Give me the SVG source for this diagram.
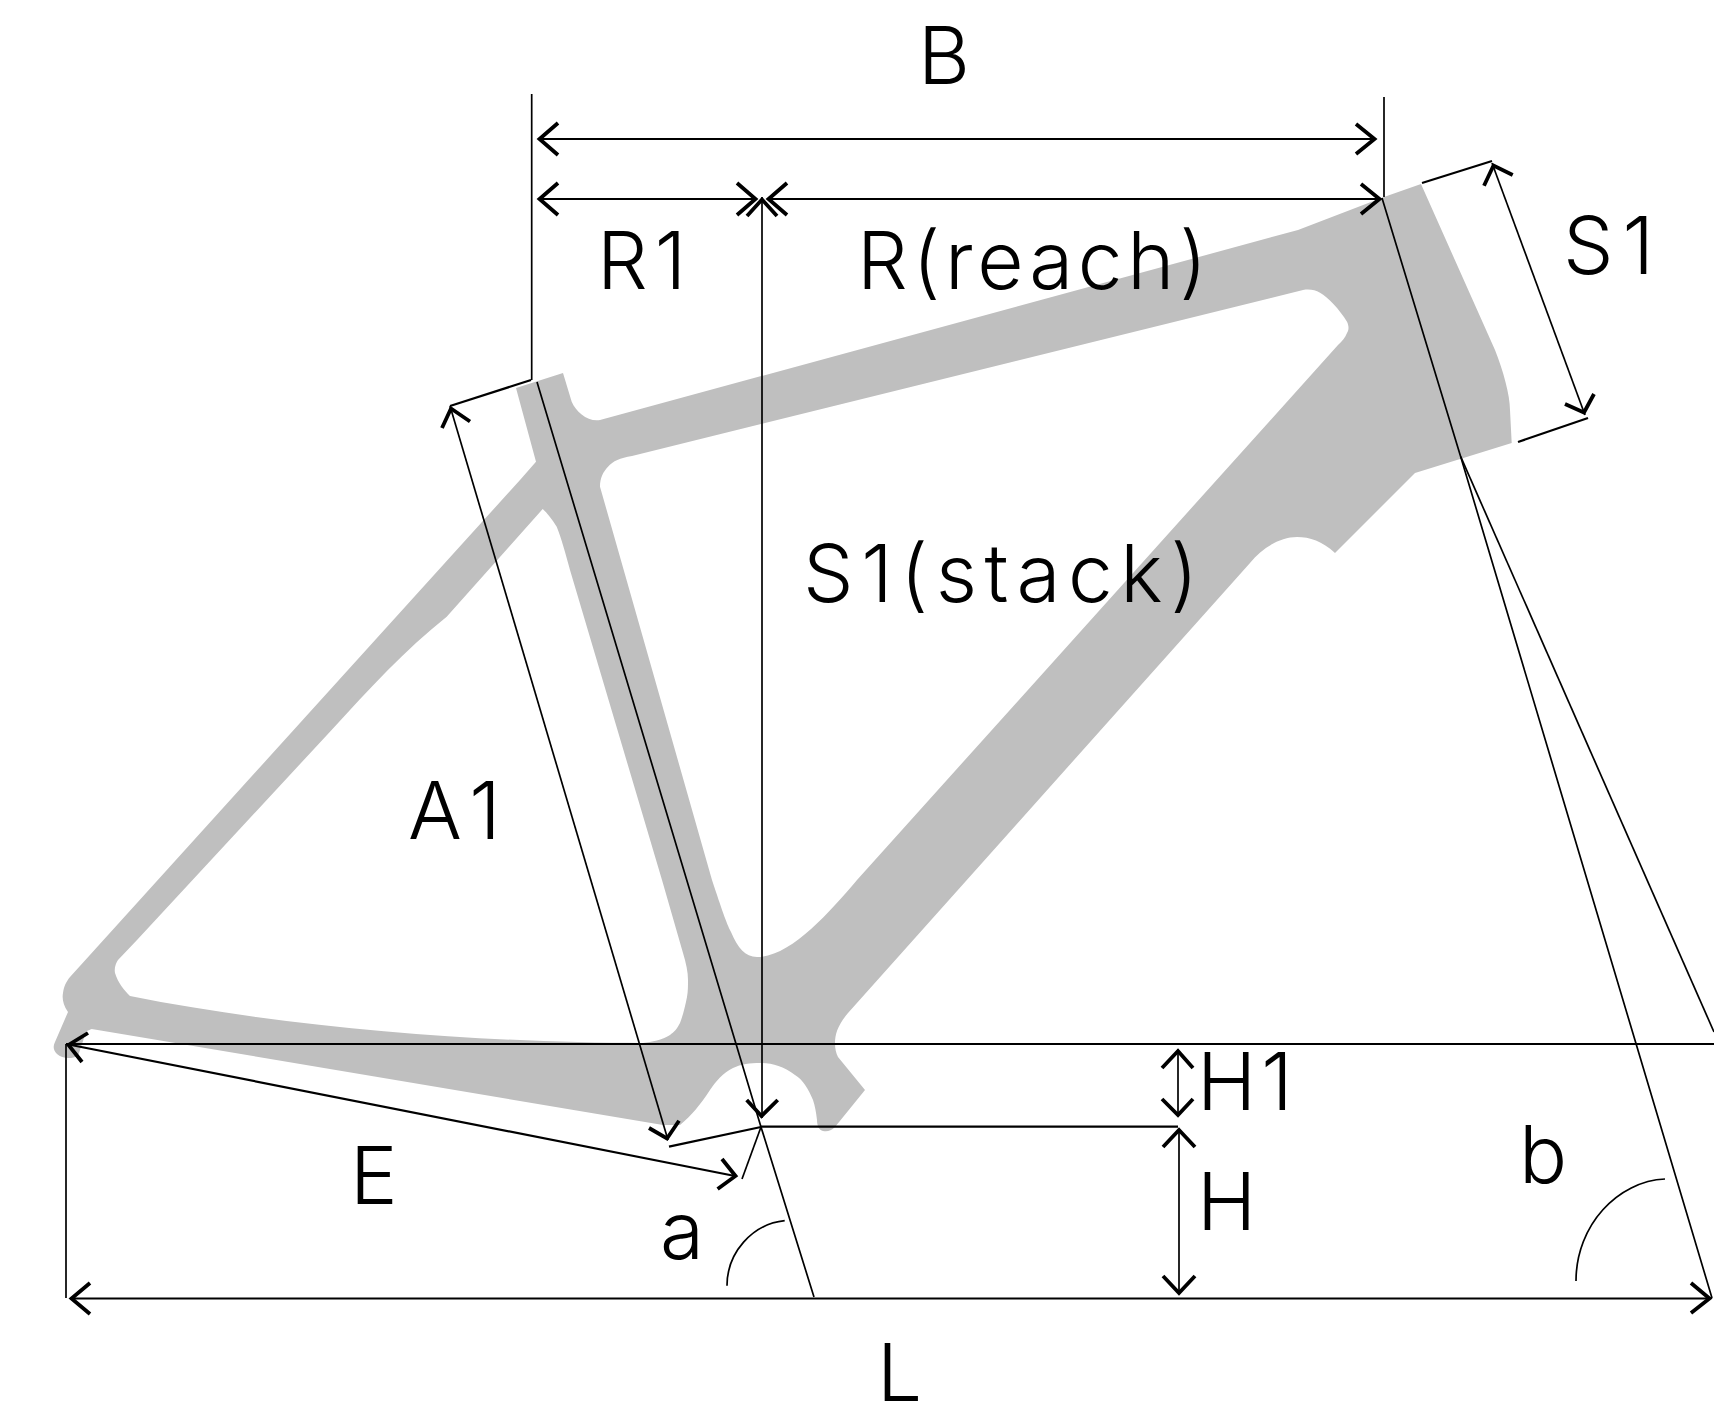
<svg xmlns="http://www.w3.org/2000/svg" width="1714" height="1406" viewBox="0 0 1714 1406">
<style>
.l{fill:none;stroke:#000;stroke-width:1.7}
.t{fill:none;stroke:#000;stroke-width:2.2}
.h{fill:none;stroke:#000;stroke-width:3.8}
text{font-family:"Inter","Liberation Sans",sans-serif;font-weight:300;font-size:80px;fill:#000}
</style>
<rect width="1714" height="1406" fill="#fff"/>
<g id="frame">
<path fill="#bfbfbf" fill-rule="evenodd" d="M516,388 L563,373 L571.7,401.7 C576,412 588,422 600,420 L1298,230 L1384,197 L1421,184 L1495,350 C1503,370 1510,395 1510,410 L1511.7,443 L1415,473 L1335,553 C1322,541 1310,537 1297,537 C1280,537 1262,548 1250,563 L848,1013 C838,1025 835,1034 835,1043 C835,1049 836,1053 838,1057 L865,1090 L835,1127 C831,1131 827,1132 823,1131 C819,1130 817,1126 817,1120 C816,1112 815,1106 813,1100 C808,1088 803,1080 795,1075 C783,1066 772,1063 760,1063 C750,1063 741,1064 733,1068 C723,1073 716,1081 710,1090 C700,1105 692,1115 680,1125 L663,1125 L91.7,1029 C90,1030 88,1030 86,1032 L78,1056 C72,1059 62,1059 57,1054 C53,1050 53,1046 55,1042 L68,1012 C63,1005 62,998 63,993 C64,986 66,982 70,977 L520,480 L536,461.7 Z
M600,486.7 C600,478 603,472 608,466.7 C613,461 620,458 632,456 L1303,290 C1310,289 1315,290 1320,292.7 C1328,297 1340,310 1347,321.7 C1349,326 1349,330 1347,333 C1345,338 1342,341 1338,345 L857,880 C828,914 790,957 757,957 C745,957 738,948 731,932 C726,922 722,910 712,880 Z
M542.7,509 C547,513 552,519 556.7,526.7 C561,537 566,555 570,570 L662,880 L683,953 C686,963 688,972 688,980 C688,986 688,991 687,997 C685,1007 683,1015 680,1023 C677,1029 674,1032 670,1035 C662,1040 652,1042 643,1043 C500,1043 300,1030 130,996 C124,990 118,983 115,973 C114,968 116,963 118,960 L137,940 L330,731.7 C370,688 405,650 446.7,616.7 Z"/>
</g>
<g id="connectors">
<path class="l" d="M531.7,94V380"/>
<path class="l" d="M1384,97V197"/>
<path class="l" d="M762,197V1118"/>
<path class="l" d="M537,382L761,1127L814,1297"/>
<path class="l" d="M1382,198L1460.7,456.7L1712,1298"/>
<path class="l" d="M1460.7,456.7L1714,1032"/>
<path class="l" d="M450,406L668,1140"/>
<path class="l" d="M1492,163L1585,415"/>
<path class="l" d="M66,1044V1298"/>
<path class="t" d="M66,1044H1714"/>
<path class="t" d="M70,1298.5H1710"/>
<path class="t" d="M540,139H1375"/>
<path class="t" d="M540,199H756"/>
<path class="t" d="M768,199H1380"/>
<path class="t" d="M761,1126.7H1178"/>
<path class="t" d="M66,1044L735,1176"/>
<path class="t" d="M531,380L450,406"/>
<path class="t" d="M1422,183L1492,161"/>
<path class="t" d="M1518,442L1588,418"/>
<path class="t" d="M669,1146.7L761,1127"/>
<path class="l" d="M761,1127L742,1179"/>
<path class="l" d="M1178,1049V1115"/>
<path class="l" d="M1179,1130V1293"/>
<path class="l" d="M727,1285.7C727,1253 752,1224 784.7,1220.7"/>
<path class="l" d="M1576,1281C1576,1225 1618,1181 1665,1179"/>
<path class="h" d="M558,123L539.5,139L558,155"/>
<path class="h" d="M1356,124L1374.5,139L1356,154"/>
<path class="h" d="M558,183L539.5,199L558,215"/>
<path class="h" d="M737,183L755.5,199L737,215"/>
<path class="h" d="M787,183L768.5,199L787,215"/>
<path class="h" d="M1361,184L1379.5,199L1361,214"/>
<path class="h" d="M747,216L762,199.5L777,216"/>
<path class="h" d="M746.7,1100L761.5,1116L777.7,1100"/>
<path class="h" d="M470,421.5L451,408.5L442,428"/>
<path class="h" d="M649,1128L667,1138.5L679,1120.7"/>
<path class="h" d="M88,1033L68.5,1045L82,1062"/>
<path class="h" d="M722,1159L735.5,1176L717.6,1189"/>
<path class="h" d="M90,1283L71.5,1298.5L90,1314"/>
<path class="h" d="M1691,1283L1709.5,1298.5L1691,1313"/>
<path class="h" d="M1484,185.7L1493.5,165.5L1512.7,175"/>
<path class="h" d="M1565,404L1584,412.5L1594,394"/>
<path class="h" d="M1162,1068L1178,1051L1193,1068"/>
<path class="h" d="M1162,1099L1178,1115L1193,1099"/>
<path class="h" d="M1163,1147L1179,1130L1195,1147"/>
<path class="h" d="M1163,1276L1179,1293L1195,1276"/>
</g>
<g id="label-B"><text x="918" y="84">B</text></g>
<g id="label-R1"><text x="597" y="289" letter-spacing="7">R1</text></g>
<g id="label-R"><text x="857" y="289" textLength="350" lengthAdjust="spacing">R(reach)</text></g>
<g id="label-S1-stack"><text x="803" y="602" textLength="395" lengthAdjust="spacing">S1(stack)</text></g>
<g id="label-S1"><text x="1563" y="274" letter-spacing="9">S1</text></g>
<g id="label-A1"><text x="408" y="839" letter-spacing="10">A1</text></g>
<g id="label-E"><text x="350" y="1204">E</text></g>
<g id="label-a"><text x="660" y="1259">a</text></g>
<g id="label-L"><text x="877" y="1401">L</text></g>
<g id="label-b"><text x="1519" y="1183">b</text></g>
<g id="label-H"><text x="1197" y="1230">H</text></g>
<g id="label-H1"><text x="1197" y="1110" letter-spacing="5">H1</text></g>
</svg>
